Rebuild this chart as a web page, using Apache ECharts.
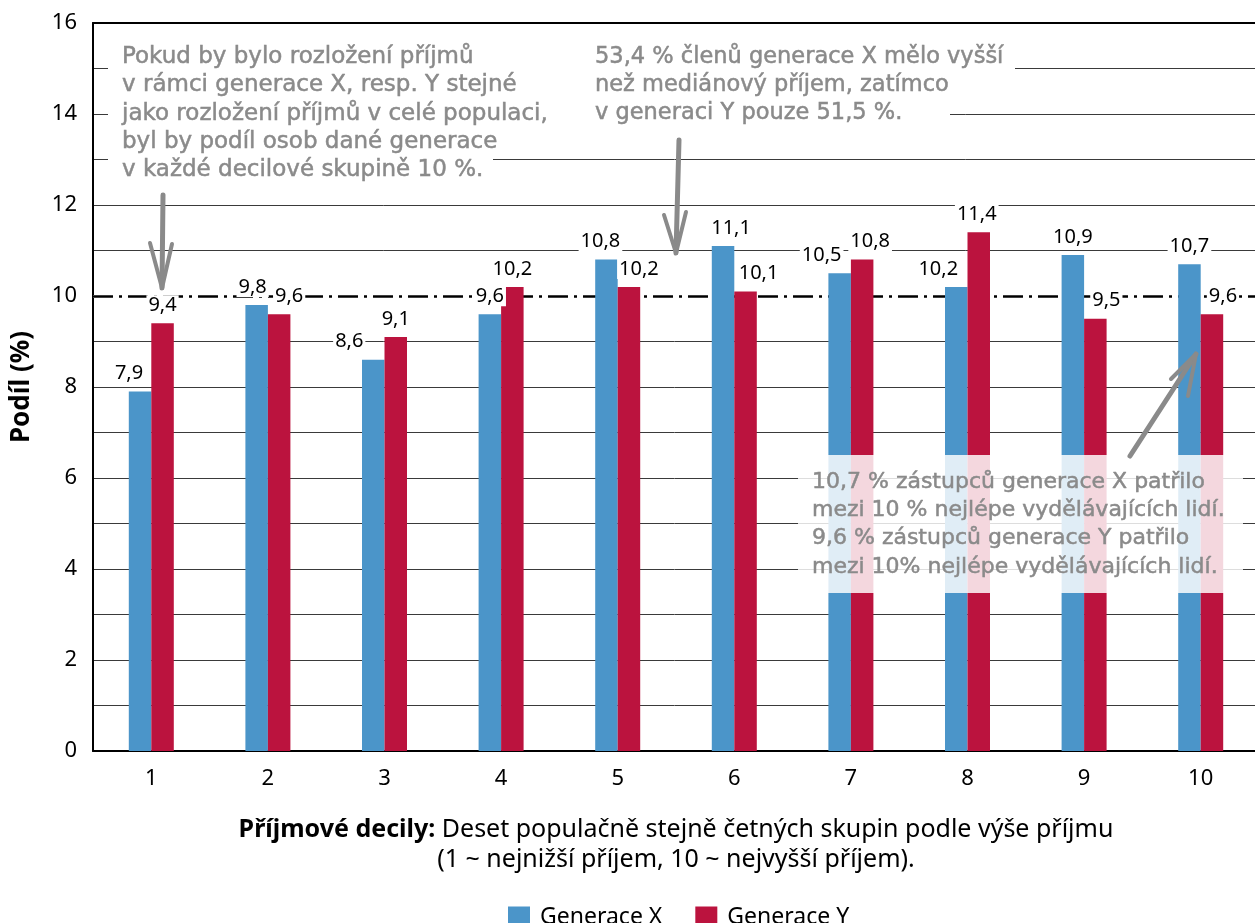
<!DOCTYPE html>
<html><head><meta charset="utf-8">
<script src="https://cdn.jsdelivr.net/npm/echarts@6/dist/echarts.min.js"></script>
<style>html,body{margin:0;padding:0;background:#fff}#c{width:1255px;height:923px}</style>
</head><body><div id="c"></div>
<script>
const categories = ['1','2','3','4','5','6','7','8','9','10'];
const genX = [7.9, 9.8, 8.6, 9.6, 10.8, 11.1, 10.5, 10.2, 10.9, 10.7];
const genY = [9.4, 9.6, 9.1, 10.2, 10.2, 10.1, 10.8, 11.4, 9.5, 9.6];
const seriesNames = ['Generace X', 'Generace Y'];
const referenceLevel = 10;
const yTicks = {min: 0, max: 16, step: 1, labelStep: 2};
// horizontal nudges of value labels (style only)
const labelShiftX = [-11, -4, -24, 0, -6, 8, -18, -18, 0, 0];
const labelShiftY = [0, 10, 0, 0, 10, 13, 8, -2, 11, 11];

const note1 = ['Pokud by bylo rozložení příjmů','v rámci generace X, resp. Y stejné','jako rozložení příjmů v celé populaci,','byl by podíl osob dané generace','v každé decilové skupině 10 %.'];
const note2 = ['53,4 % členů generace X mělo vyšší','než mediánový příjem, zatímco','v generaci Y pouze 51,5 %.'];
const note3 = ['10,7 % zástupců generace X patřilo','mezi 10 % nejlépe vydělávajících lidí.','9,6 % zástupců generace Y patřilo','mezi 10% nejlépe vydělávajících lidí.'];
const xTitle1 = 'Příjmové decily:';
const xTitle2 = ' Deset populačně stejně četných skupin podle výše příjmu';
const xTitle3 = '(1 ~ nejnižší příjem, 10 ~ nejvyšší příjem).';
const yTitle = 'Podíl (%)';

const chart = echarts.init(document.getElementById('c'), null, {renderer:'canvas'});
const FONT = '"Noto Sans", "Open Sans", sans-serif';
const HAND = '"DejaVu Sans", sans-serif';
const GRAY = '#8a8a8a';

function fmt(v){ return String(v).replace('.', ','); }

const labelStyle = {show:true, position:'top', distance:8, fontSize:20, fontFamily:FONT, color:'#000',
  backgroundColor:'#fff', padding:[0,2], formatter: p => fmt(p.value)};

function barData(vals, shifts){
  return vals.map((v,i)=>({value:v, label:{offset:[shifts[i],0]}}));
}

function noteTexts(lines, x, y0, lh, size){
  return lines.map((t,i)=>({type:'text', z:101, x:x, y:y0+i*lh,
    style:{text:t, fill:GRAY, stroke:GRAY, lineWidth:0.5, font:size + 'px ' + HAND, textVerticalAlign:'middle', textAlign:'left'}}));
}
function arrow(tail, tip, b1, b2){
  return [
    {type:'polyline', z:102, shape:{points:[tail, tip]}, style:{stroke:GRAY, lineWidth:5, lineCap:'round', fill:null}},
    {type:'polyline', z:102, shape:{points:[b1, tip, b2]}, style:{stroke:GRAY, lineWidth:4, lineCap:'round', lineJoin:'round', fill:null}}
  ];
}

const graphics = [
  {type:'rect', z:100, shape:{x:108, y:44, width:907, height:27}, style:{fill:'#fff'}},
  {type:'rect', z:100, shape:{x:108, y:71, width:842, height:57}, style:{fill:'#fff'}},
  {type:'rect', z:100, shape:{x:108, y:128, width:385, height:57}, style:{fill:'#fff'}},
  {type:'rect', z:100, shape:{x:798, y:455, width:445, height:138}, style:{fill:'rgba(255,255,255,0.83)'}},
  ...noteTexts(note1, 122, 57, 28.3, 23),
  ...noteTexts(note2, 595, 57, 28.3, 22.5),
  ...noteTexts(note3, 812, 482, 28.3, 22),
  ...arrow([163,195],[162,288],[150,243],[172,244]),
  ...arrow([679,140],[676,253],[664,215],[686,212]),
  ...arrow([1130,456],[1196,354],[1171,379],[1188,396]),
  {type:'text', z:101, x:676, y:845, style:{
    text:'{b|' + xTitle1 + '}{n|' + xTitle2 + '}\n{n|' + xTitle3 + '}',
    textAlign:'center', textVerticalAlign:'middle', fill:'#000',
    rich:{b:{fontFamily:FONT, fontSize:25, fontWeight:'bold', lineHeight:30, fill:'#000'},
          n:{fontFamily:FONT, fontSize:25, lineHeight:30, fill:'#000'}}}}
];

chart.setOption({
  animation:false,
  backgroundColor:'#fff',
  grid:{left:93, right:-4, top:23, bottom:172, containLabel:false, outerBoundsMode:'none'},
  legend:{data:seriesNames, left:503, top:901, itemWidth:22, itemHeight:22, itemGap:33, icon:'rect',
    textStyle:{fontSize:23, fontFamily:FONT, color:'#000', padding:[0,0,0,5]}},
  xAxis:[{type:'category', data:categories, axisLine:{lineStyle:{color:'#000', width:2}}, axisTick:{show:false},
    axisLabel:{fontSize:22, fontFamily:FONT, color:'#000', margin:17}},
    {type:'category', position:'top', data:categories, axisLine:{show:true, lineStyle:{color:'#000', width:2}},
     axisTick:{show:false}, axisLabel:{show:false}}],
  yAxis:{type:'value', min:yTicks.min, max:yTicks.max, interval:yTicks.step,
    name:yTitle, nameLocation:'middle', nameGap:58, nameRotate:90,
    nameTextStyle:{fontSize:26, fontWeight:'bold', fontFamily:FONT, color:'#000'},
    axisLine:{show:true, lineStyle:{color:'#000', width:2}}, axisTick:{show:false},
    axisLabel:{fontSize:22, fontFamily:FONT, color:'#000', margin:16,
      formatter: v => (v % yTicks.labelStep === 0 ? String(v) : '')},
    splitLine:{show:true, lineStyle:{color:'#3a3a3a', width:1}}},
  series:[
    {name:'ref', type:'line', data:[], z:1, silent:true,
      markLine:{silent:true, z:1, symbol:'none', label:{show:false}, animation:false,
        data:[{yAxis:referenceLevel, lineStyle:{color:'#fff', width:3, type:'solid'}},
              {yAxis:referenceLevel, lineStyle:{color:'#000', width:2.5, type:[20,6,3,6]}}]}},
    {name:seriesNames[0], type:'bar', data:barData(genX, labelShiftX), barWidth:22.5, barGap:'0%', z:2,
      itemStyle:{color:'#4b95c9'}, label:labelStyle},
    {name:seriesNames[1], type:'bar', data:barData(genY, labelShiftY), barWidth:22.5, z:2,
      itemStyle:{color:'#bb133e'}, label:labelStyle}
  ],
  graphic:{elements:graphics}
});
</script></body></html>
